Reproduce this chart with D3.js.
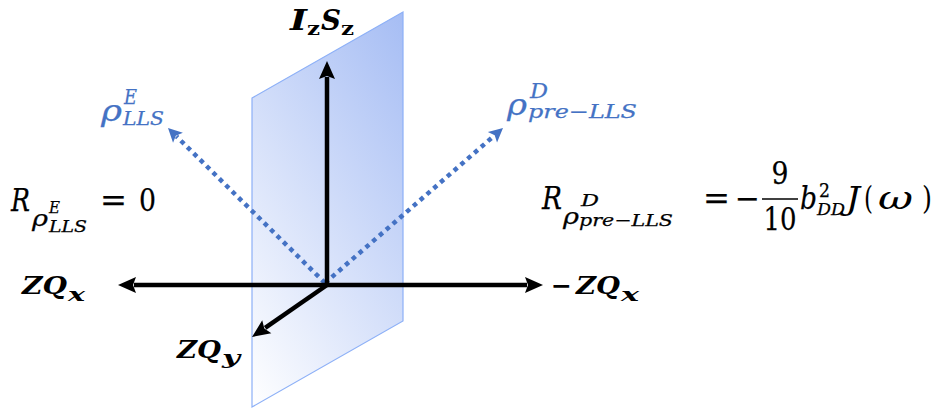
<!DOCTYPE html>
<html>
<head>
<meta charset="utf-8">
<script src="https://cdn.jsdelivr.net/npm/d3@7"></script>
<style>
  html, body { margin: 0; padding: 0; background: #fff; }
  svg { display: block; }
</style>
</head>
<body>
<div id="chart"></div>
<script>
// diagram units: 1 unit = 100px, origin at the axis crossing
const axisNames = ["ZQx", "-ZQx", "IzSz", "ZQy"];
const axisEnds = [[-2.09, 0], [2.16, 0], [0, 2.24], [-0.75, -0.52]];

const stateNames = ["rhoE_LLS", "rhoD_preLLS"];
const stateStart = [[-0.02, 0.02], [-0.02, 0.02]];
const stateEnds = [[-1.59, 1.57], [1.76, 1.57]];

const planeCorners = [[-0.75, 1.87], [0.76, 2.73], [0.76, -0.36], [-0.75, -1.22]];

const width = 939, height = 413;
const blue = "#4472c4";
const serif = "'DejaVu Serif', 'Liberation Serif', serif";

const x = d3.scaleLinear().domain([0, 1]).range([327, 427]);
const y = d3.scaleLinear().domain([0, 1]).range([285, 185]);

const svg = d3.select("#chart").append("svg")
  .attr("width", width)
  .attr("height", height);

// gradient runs from the lower left corner toward the upper right, mostly sideways
const grad = svg.append("defs").append("linearGradient")
  .attr("id", "planeFill")
  .attr("gradientUnits", "userSpaceOnUse")
  .attr("x1", x(-0.75)).attr("y1", y(-1.22))
  .attr("x2", x(2.11)).attr("y2", y(0.57));
grad.append("stop").attr("offset", 0).attr("stop-color", "#ffffff");
grad.append("stop").attr("offset", 1).attr("stop-color", "#a6bdf4");

// plane
svg.append("path")
  .attr("d", d3.line().x(d => x(d[0])).y(d => y(d[1]))(planeCorners) + "Z")
  .attr("fill", "url(#planeFill)")
  .attr("stroke", "#8db0f7")
  .attr("stroke-width", 1.2);

function arrow(g, p0, p1, color, w, headLen, headW, dash) {
  const x0 = x(p0[0]), y0 = y(p0[1]), x1 = x(p1[0]), y1 = y(p1[1]);
  const len = Math.hypot(x1 - x0, y1 - y0);
  const ux = (x1 - x0) / len, uy = (y1 - y0) / len;
  const bx = x1 - ux * headLen, by = y1 - uy * headLen;
  g.append("line")
    .attr("x1", x0).attr("y1", y0)
    .attr("x2", bx + ux * 2).attr("y2", by + uy * 2)
    .attr("stroke", color)
    .attr("stroke-width", w)
    .attr("stroke-dasharray", dash || null);
  g.append("path")
    .attr("d", `M${x1},${y1}L${bx - uy * headW / 2},${by + ux * headW / 2}L${bx + ux * 3},${by + uy * 3}L${bx + uy * headW / 2},${by - ux * headW / 2}Z`)
    .attr("fill", color);
}

const marks = svg.append("g");
stateEnds.forEach((d, i) => arrow(marks, stateStart[i], d, blue, 4.5, 14, 14, "4.5 4.5"));
axisEnds.forEach(d => arrow(marks, [0, 0], d, "#000", 4.5, 18, 16));

// text helper
function put(t, px, py, size, o) {
  o = o || {};
  const c = o.color || "#000";
  const el = svg.append("text")
    .attr("x", px).attr("y", py)
    .attr("font-family", serif)
    .attr("font-size", size)
    .attr("font-style", o.italic ? "italic" : "normal")
    .attr("font-weight", o.bold ? "bold" : "normal")
    .attr("fill", c)
    .attr("stroke", o.bold || o.thin ? null : c)
    .attr("stroke-width", o.bold || o.thin ? null : 0.25)
    .attr("text-anchor", o.anchor || "start")
    .text(t);
  if (o.len) el.attr("textLength", o.len).attr("lengthAdjust", "spacingAndGlyphs");
  return el;
}

// axis labels
put("I", 290, 30, 28, { italic: 1, bold: 1, len: 17 });
put("z", 307, 35, 18, { bold: 1, len: 13 });
put("S", 321, 30, 28, { italic: 1, bold: 1, len: 20 });
put("z", 341, 35, 18, { bold: 1, len: 13 });

put("ZQ", 22, 294, 25, { italic: 1, bold: 1, len: 45 });
put("x", 68, 301, 18, { italic: 1, bold: 1, len: 17 });

put("\u2212", 551, 294, 25, { bold: 1, len: 21 });
put("ZQ", 576, 294, 25, { italic: 1, bold: 1, len: 44 });
put("x", 621, 301, 18, { italic: 1, bold: 1, len: 18 });

put("ZQ", 177, 358, 25, { italic: 1, bold: 1, len: 44 });
put("y", 222, 364, 18, { italic: 1, bold: 1, len: 18 });

// state labels
put("\u03c1", 101, 121, 30, { italic: 1, color: blue, len: 21 });
put("E", 124, 104, 20, { italic: 1, color: blue, len: 13 });
put("LLS", 123, 125, 19, { italic: 1, color: blue, len: 41 });

put("\u03c1", 507, 115, 30, { italic: 1, color: blue, len: 20 });
put("D", 530, 98, 20, { italic: 1, color: blue, len: 18 });
put("pre\u2212LLS", 528, 118, 19, { italic: 1, color: blue, len: 109 });

// left rate
put("R", 11, 211, 31, { italic: 1, len: 19 });
put("\u03c1", 32, 226, 23, { italic: 1, len: 16 });
put("E", 49, 213, 17, { italic: 1, len: 11 });
put("LLS", 49, 232, 17, { italic: 1, len: 38 });
put("=", 100, 211, 31, { len: 27 });
put("0", 139, 211, 31, { len: 17 });

// right rate
put("R", 542, 209, 31, { italic: 1, len: 20 });
put("\u03c1", 563, 224, 23, { italic: 1, len: 16 });
put("D", 581, 206, 17, { italic: 1, len: 18 });
put("pre\u2212LLS", 579, 226, 17, { italic: 1, len: 94 });
put("=", 703, 209, 31, { len: 27 });
put("\u2212", 735, 209, 31, { len: 25 });
put("9", 780, 184, 31, { anchor: "middle", len: 17 });
svg.append("line")
  .attr("x1", 762).attr("x2", 798)
  .attr("y1", 199).attr("y2", 199)
  .attr("stroke", "#000").attr("stroke-width", 1.6);
put("10", 780, 230, 31, { anchor: "middle", len: 33 });
put("b", 800, 209, 31, { italic: 1, len: 17 });
put("2", 819, 197, 18, { len: 11 });
put("DD", 817, 215, 17, { italic: 1, len: 28 });
put("J", 846, 209, 31, { italic: 1, thin: 1, len: 14 });
put("(", 864, 209, 31, { thin: 1, len: 9 });
put("\u03c9", 878, 209, 31, { italic: 1, thin: 1, len: 35 });
put(")", 922, 209, 31, { thin: 1, len: 10 });
</script>
</body>
</html>
